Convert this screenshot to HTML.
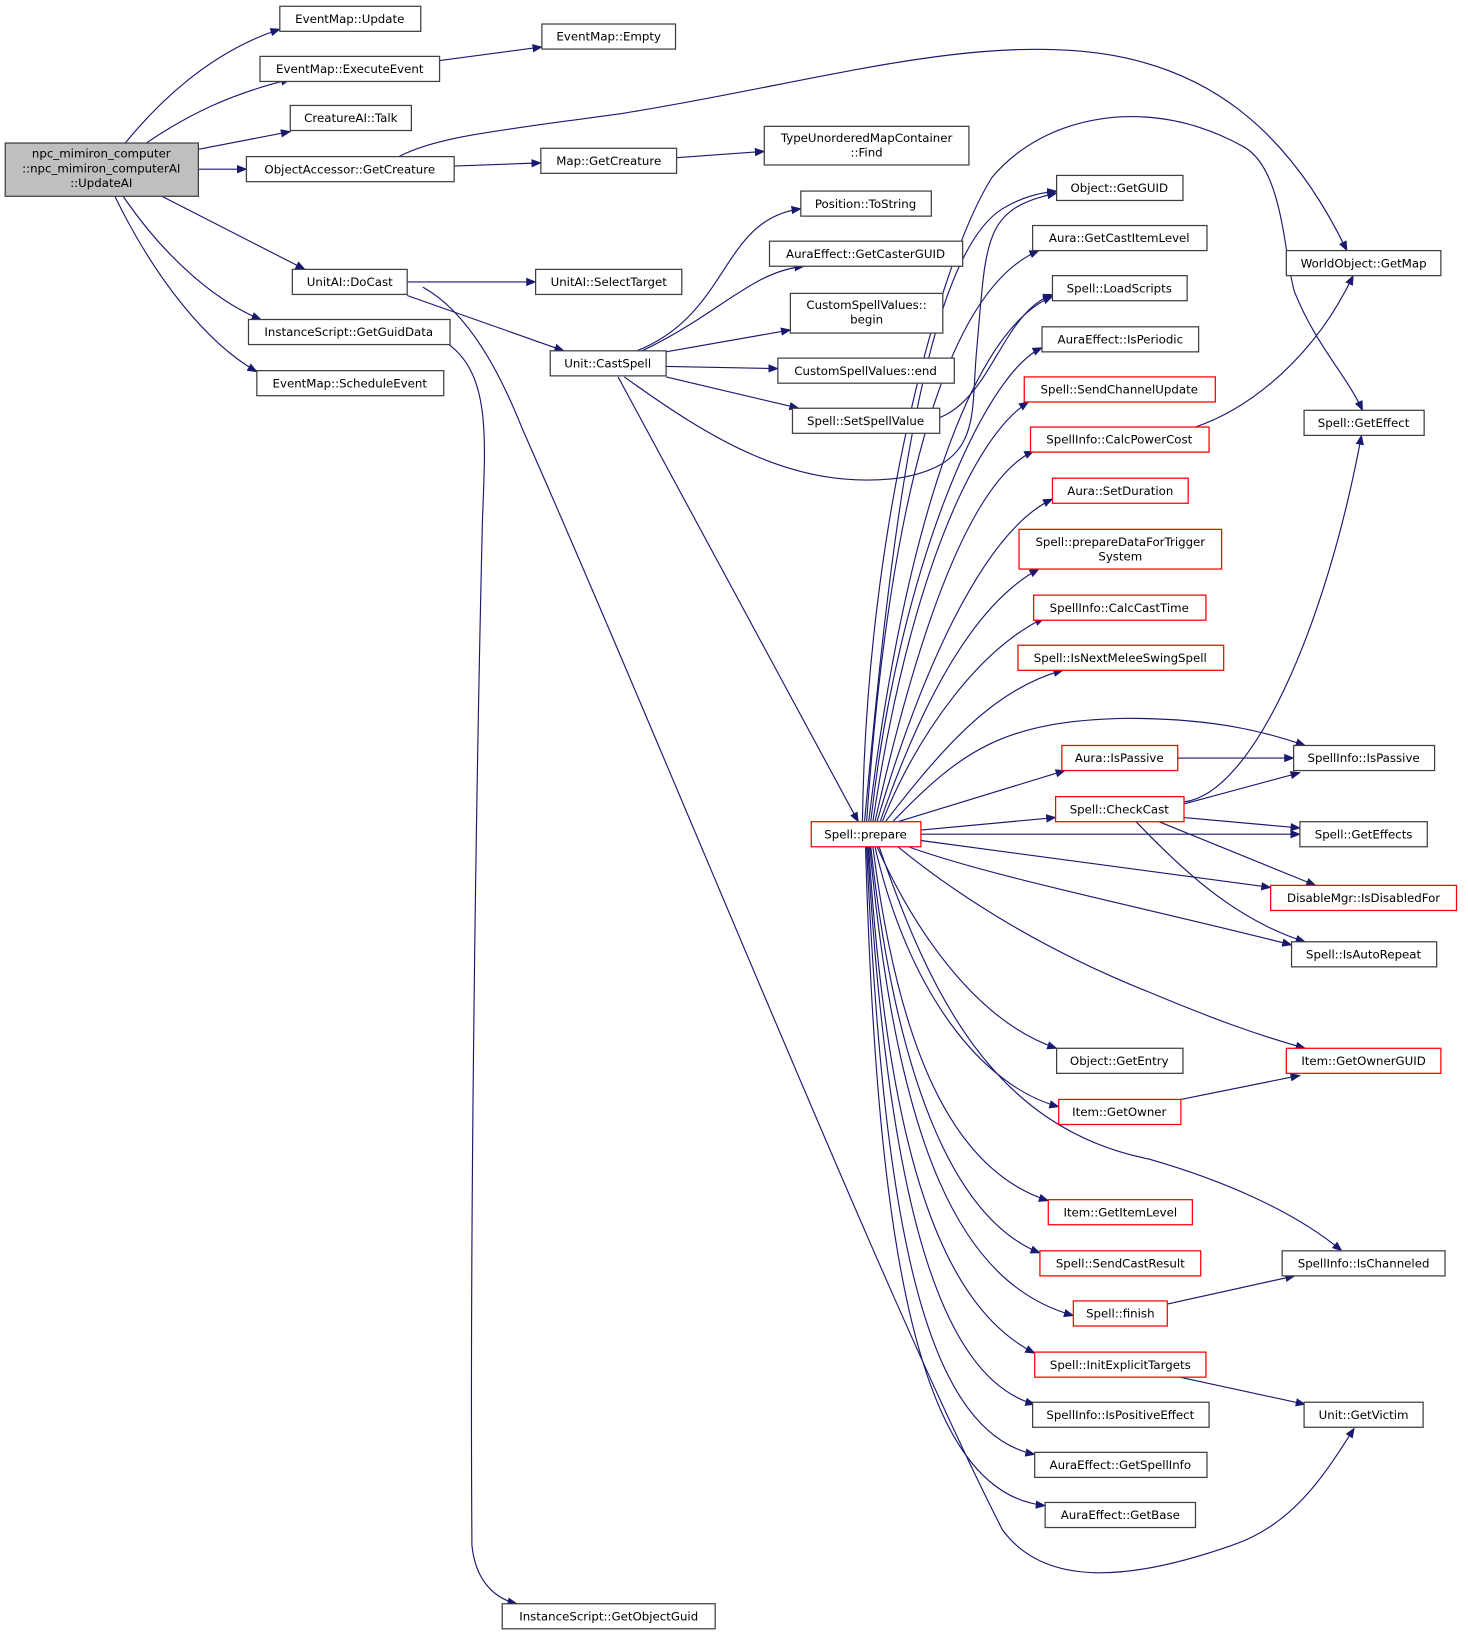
<!DOCTYPE html>
<html><head><meta charset="utf-8"><style>
html,body{margin:0;padding:0;background:#fff}
svg{display:block}
text{font-family:"DejaVu Sans","Liberation Sans",sans-serif;font-size:11.3px;fill:#000;text-anchor:middle}
.b{fill:#fff;stroke:#404040;stroke-width:1.2}
.r{fill:#fff;stroke:#ff0000;stroke-width:1.2}
.e{fill:none;stroke:#191970;stroke-width:1.1}
</style></head><body>
<svg width="1468" height="1643" viewBox="0 0 1406 1573.6" preserveAspectRatio="none" xmlns="http://www.w3.org/2000/svg">
<defs><marker id="a" markerWidth="10" markerHeight="8" refX="9" refY="4" orient="auto" markerUnits="userSpaceOnUse"><path d="M0,0 L10,4 L0,8 z" fill="#191970"/></marker></defs>
<g class="e" marker-end="url(#a)">
<!-- main -->
<path d="M120,137 C150,100 200,50 268,28"/>
<path d="M140,137 C180,110 220,90 278,76"/>
<path d="M190,143 L278,126"/>
<path d="M190,162 L236,162"/>
<path d="M155,188 L292,258"/>
<path d="M118,188 C160,250 210,290 250,306"/>
<path d="M110,188 C150,270 200,330 246,356"/>
<path d="M421,58 L519,45"/>
<path d="M435,159 L518,156"/>
<path d="M648,151 L732,145"/>
<path d="M382,150 C420,130 480,125 600,108 C900,60 1150,-50 1290,240"/>
<path d="M390,270 L513,270"/>
<path d="M390,283 L540,336"/>
<path d="M430,330 C470,360 465,420 462,500 C455,800 450,1200 452,1480 C455,1510 470,1530 495,1536"/>
<path d="M405,275 C450,300 480,360 500,410 C650,750 850,1250 960,1465 C1000,1520 1080,1515 1180,1480 C1240,1460 1270,1410 1297,1368"/>
<!-- castspell -->
<path d="M610,336 C700,300 690,210 767,200"/>
<path d="M615,336 C690,300 720,260 770,255"/>
<path d="M638,337 L757,316"/>
<path d="M638,351 L745,353"/>
<path d="M638,361 L765,391"/>
<path d="M592,361 L822,787"/>
<path d="M598,361 C680,420 760,470 860,458 C940,445 930,400 935,340 C945,230 940,200 1012,185"/>
<path d="M900,400 C950,380 960,300 1008,282"/>
<!-- prepare up -->
<path d="M828,787 C850,550 880,250 960,200 C980,188 995,185 1012,183"/>
<path d="M830,787 C850,500 900,280 995,240"/>
<path d="M832,787 C860,550 920,320 1008,284"/>
<path d="M834,787 C860,550 940,360 998,333"/>
<path d="M836,787 C870,560 930,420 985,385"/>
<path d="M838,787 C880,600 930,460 990,432"/>
<path d="M840,787 C880,650 940,510 1008,478"/>
<path d="M843,787 C880,680 930,580 995,545"/>
<path d="M845,787 C880,700 940,620 1000,592"/>
<path d="M848,787 C900,720 950,660 1018,642"/>
<path d="M855,787 C920,720 960,690 1080,688 C1160,688 1210,700 1250,714"/>
<path d="M860,787 L1020,738"/>
<path d="M882,795 L1011,783"/>
<path d="M882,799 L1245,799"/>
<path d="M882,805 L1217,850"/>
<path d="M870,811 C950,840 1100,870 1237,905"/>
<path d="M860,811 C920,860 1000,910 1100,950 C1160,975 1200,990 1250,1004"/>
<path d="M840,811 C880,900 940,980 1012,1004"/>
<path d="M838,811 C870,950 940,1040 1014,1060"/>
<path d="M842,811 C890,950 950,1080 1100,1110 C1170,1130 1240,1160 1285,1198"/>
<path d="M836,811 C860,1000 910,1120 1004,1150"/>
<path d="M834,811 C860,1050 920,1170 996,1200"/>
<path d="M833,811 C860,1100 920,1230 1028,1260"/>
<path d="M832,811 C850,1100 900,1250 991,1296"/>
<path d="M831,811 C850,1150 900,1320 991,1345"/>
<path d="M830,811 C845,1150 880,1370 991,1393"/>
<path d="M829,811 C840,1200 880,1430 1001,1442"/>
<path d="M826,787 C830,500 900,250 950,170 C1000,110 1100,90 1190,140 C1230,160 1230,250 1240,280 C1260,330 1290,360 1305,393"/>
<!-- others -->
<path d="M1145,409 C1200,390 1260,340 1296,264"/>
<path d="M1128,726 L1239,726"/>
<path d="M1134,768 C1200,760 1270,600 1304,417"/>
<path d="M1134,770 L1245,740"/>
<path d="M1134,783 L1245,793"/>
<path d="M1110,787 L1260,848"/>
<path d="M1088,787 C1130,830 1180,880 1250,902"/>
<path d="M1131,1053 L1245,1030"/>
<path d="M1118,1249 L1240,1222"/>
<path d="M1130,1319 L1250,1345"/>
</g>
<rect x="5" y="137" width="185" height="51" fill="#bfbfbf" stroke="#404040" stroke-width="1.2"/>
<text x="97" y="151">npc_mimiron_computer</text><text x="97" y="165">::npc_mimiron_computerAI</text><text x="97" y="179">::UpdateAI</text>
<g>
<rect class="b" x="268" y="6" width="135" height="24"/><text x="335" y="22">EventMap::Update</text>
<rect class="b" x="249" y="54" width="172" height="24"/><text x="335" y="70">EventMap::ExecuteEvent</text>
<rect class="b" x="278" y="101" width="116" height="24"/><text x="336" y="117">CreatureAI::Talk</text>
<rect class="b" x="236" y="150" width="199" height="24"/><text x="335" y="166">ObjectAccessor::GetCreature</text>
<rect class="b" x="280" y="258" width="110" height="24"/><text x="335" y="274">UnitAI::DoCast</text>
<rect class="b" x="238" y="306" width="193" height="24"/><text x="334" y="322">InstanceScript::GetGuidData</text>
<rect class="b" x="246" y="355" width="179" height="24"/><text x="335" y="371">EventMap::ScheduleEvent</text>
<rect class="b" x="519" y="23" width="128" height="24"/><text x="583" y="39">EventMap::Empty</text>
<rect class="b" x="518" y="142" width="130" height="24"/><text x="583" y="158">Map::GetCreature</text>
<rect class="b" x="732" y="121" width="196" height="37"/><text x="830" y="136">TypeUnorderedMapContainer</text><text x="830" y="150">::Find</text>
<rect class="b" x="513" y="258" width="140" height="24"/><text x="583" y="274">UnitAI::SelectTarget</text>
<rect class="b" x="527" y="336" width="111" height="24"/><text x="582" y="352">Unit::CastSpell</text>
<rect class="b" x="767" y="183" width="125" height="24"/><text x="829" y="199">Position::ToString</text>
<rect class="b" x="737" y="231" width="185" height="24"/><text x="829" y="247">AuraEffect::GetCasterGUID</text>
<rect class="b" x="757" y="281" width="146" height="38"/><text x="830" y="296">CustomSpellValues::</text><text x="830" y="310">begin</text>
<rect class="b" x="745" y="343" width="169" height="24"/><text x="829" y="359">CustomSpellValues::end</text>
<rect class="b" x="759" y="391" width="141" height="24"/><text x="829" y="407">Spell::SetSpellValue</text>
<rect class="r" x="777" y="787" width="105" height="24"/><text x="829" y="803">Spell::prepare</text>
<rect class="b" x="481" y="1536" width="204" height="24"/><text x="583" y="1552">InstanceScript::GetObjectGuid</text>
<rect class="b" x="1012" y="168" width="121" height="24"/><text x="1072" y="184">Object::GetGUID</text>
<rect class="b" x="989" y="216" width="167" height="24"/><text x="1072" y="232">Aura::GetCastItemLevel</text>
<rect class="b" x="1008" y="264" width="129" height="24"/><text x="1072" y="280">Spell::LoadScripts</text>
<rect class="b" x="998" y="313" width="150" height="24"/><text x="1073" y="329">AuraEffect::IsPeriodic</text>
<rect class="r" x="981" y="361" width="183" height="24"/><text x="1072" y="377">Spell::SendChannelUpdate</text>
<rect class="r" x="987" y="409" width="171" height="24"/><text x="1072" y="425">SpellInfo::CalcPowerCost</text>
<rect class="r" x="1008" y="458" width="130" height="24"/><text x="1073" y="474">Aura::SetDuration</text>
<rect class="r" x="976" y="507" width="194" height="38"/><text x="1073" y="523">Spell::prepareDataForTrigger</text><text x="1073" y="537">System</text>
<rect class="r" x="990" y="570" width="165" height="24"/><text x="1072" y="586">SpellInfo::CalcCastTime</text>
<rect class="r" x="975" y="618" width="197" height="24"/><text x="1073" y="634">Spell::IsNextMeleeSwingSpell</text>
<rect class="r" x="1017" y="714" width="111" height="24"/><text x="1072" y="730">Aura::IsPassive</text>
<rect class="r" x="1011" y="763" width="123" height="24"/><text x="1072" y="779">Spell::CheckCast</text>
<rect class="b" x="1012" y="1004" width="121" height="24"/><text x="1072" y="1020">Object::GetEntry</text>
<rect class="r" x="1014" y="1053" width="117" height="24"/><text x="1072" y="1069">Item::GetOwner</text>
<rect class="r" x="1004" y="1149" width="138" height="24"/><text x="1073" y="1165">Item::GetItemLevel</text>
<rect class="r" x="996" y="1198" width="154" height="24"/><text x="1073" y="1214">Spell::SendCastResult</text>
<rect class="r" x="1028" y="1246" width="90" height="24"/><text x="1073" y="1262">Spell::finish</text>
<rect class="r" x="991" y="1295" width="164" height="24"/><text x="1073" y="1311">Spell::InitExplicitTargets</text>
<rect class="b" x="989" y="1343" width="169" height="24"/><text x="1073" y="1359">SpellInfo::IsPositiveEffect</text>
<rect class="b" x="991" y="1391" width="165" height="24"/><text x="1073" y="1407">AuraEffect::GetSpellInfo</text>
<rect class="b" x="1001" y="1439" width="144" height="24"/><text x="1073" y="1455">AuraEffect::GetBase</text>
<rect class="b" x="1232" y="240" width="148" height="24"/><text x="1306" y="256">WorldObject::GetMap</text>
<rect class="b" x="1249" y="393" width="115" height="24"/><text x="1306" y="409">Spell::GetEffect</text>
<rect class="b" x="1239" y="714" width="135" height="24"/><text x="1306" y="730">SpellInfo::IsPassive</text>
<rect class="b" x="1245" y="787" width="122" height="24"/><text x="1306" y="803">Spell::GetEffects</text>
<rect class="r" x="1217" y="848" width="178" height="24"/><text x="1306" y="864">DisableMgr::IsDisabledFor</text>
<rect class="b" x="1237" y="902" width="139" height="24"/><text x="1306" y="918">Spell::IsAutoRepeat</text>
<rect class="r" x="1232" y="1004" width="148" height="24"/><text x="1306" y="1020">Item::GetOwnerGUID</text>
<rect class="b" x="1228" y="1198" width="156" height="24"/><text x="1306" y="1214">SpellInfo::IsChanneled</text>
<rect class="b" x="1249" y="1343" width="114" height="24"/><text x="1306" y="1359">Unit::GetVictim</text>
</g>
</svg>
</body></html>
